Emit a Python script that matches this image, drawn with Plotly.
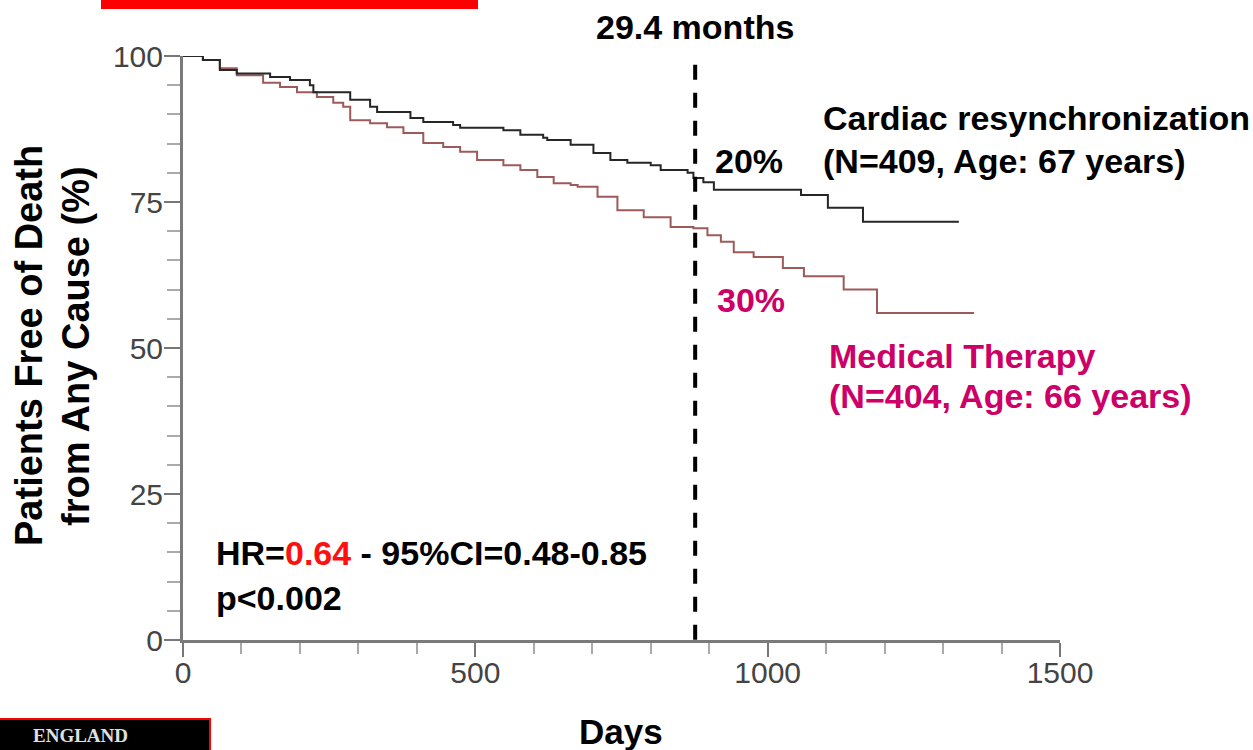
import plotly.graph_objects as go

# ---------------- data ----------------
crt_days = [0, 34, 63, 92, 149, 183, 217, 223, 286, 320, 332, 389, 411, 462, 474, 548, 577, 616, 623, 663,
            702, 731, 760, 800, 817, 863, 873, 890, 908, 1057, 1103, 1163, 1327]
crt_surv = [100, 99.3, 97.6, 97.0, 96.4, 95.9, 95.0, 93.8, 92.5, 91.3, 90.4, 89.4, 88.7, 88.2, 87.7, 87.3, 86.5, 86.0, 85.6, 84.8,
            83.4, 82.2, 81.7, 81.3, 80.5, 80.0, 79.1, 78.4, 77.1, 76.2, 74.0, 71.6, 71.6]

med_days = [0, 34, 63, 92, 137, 166, 195, 229, 257, 274, 286, 320, 349, 377, 411, 445, 474, 503, 548, 577,
            606, 634, 663, 675, 709, 743, 788, 834, 873, 897, 920, 942, 976, 1026, 1062, 1130, 1187, 1353]
med_surv = [100, 99.3, 97.9, 96.7, 95.4, 94.7, 93.8, 93.0, 92.0, 91.3, 89.0, 88.5, 87.8, 86.8, 85.1, 84.4, 83.6, 82.2, 81.3, 80.5,
            79.3, 78.2, 77.9, 77.6, 75.9, 73.6, 72.4, 70.7, 70.5, 69.3, 68.2, 66.4, 65.6, 63.7, 62.3, 60.0, 56.0, 56.0]

followup_days = 876
followup_top = 98.5

x_ticks = [0, 500, 1000, 1500]
y_ticks = [0, 25, 50, 75, 100]

# ---------------- layout helpers ----------------
W, H = 1253, 750
L, R, T, B = 183, 1060, 56, 640   # plot area in pixels


def xp(px):
    return (px - L) / (R - L)


def yp(py):
    return (B - py) / (B - T)


FONT = "Liberation Sans, Arial, sans-serif"
MAGENTA = "#CC0066"

fig = go.Figure()

fig.add_trace(go.Scatter(x=med_days, y=med_surv, mode="lines", line=dict(shape="hv", color="#9e5a5a", width=2),
                         showlegend=False, hoverinfo="skip"))
fig.add_trace(go.Scatter(x=crt_days, y=crt_surv, mode="lines", line=dict(shape="hv", color="#262626", width=2),
                         showlegend=False, hoverinfo="skip"))
fig.add_trace(go.Scatter(x=[followup_days, followup_days], y=[followup_top, 0], mode="lines",
                         line=dict(color="black", width=4, dash="15px,13px"), showlegend=False, hoverinfo="skip"))

fig.update_xaxes(range=[0, 1500], tickmode="array", tickvals=x_ticks, ticks="outside", ticklen=14, tickwidth=2,
                 tickcolor="#777", showline=True, linecolor="#7a7a7a", linewidth=3, showgrid=False, zeroline=False,
                 tickfont=dict(family=FONT, size=30, color="#444"), ticklabelstandoff=-10,
                 minor=dict(dtick=100, tick0=0, ticks="outside", ticklen=11, tickwidth=2, tickcolor="#aaa", showgrid=False))
fig.update_yaxes(range=[0, 100], tickmode="array", tickvals=y_ticks, ticks="outside", ticklen=16, tickwidth=2,
                 tickcolor="#777", showline=True, linecolor="#7a7a7a", linewidth=3, showgrid=False, zeroline=False,
                 tickfont=dict(family=FONT, size=30, color="#444"), ticklabelstandoff=-5,
                 minor=dict(dtick=5, tick0=0, ticks="outside", ticklen=13, tickwidth=2, tickcolor="#aaa", showgrid=False))

fig.update_layout(width=W, height=H, margin=dict(l=L, r=W - R, t=T, b=H - B, pad=0),
                  paper_bgcolor="white", plot_bgcolor="white", showlegend=False)


def ann(text, px, py, size=34, color="black", xanchor="left", angle=0):
    fig.add_annotation(text=text, x=xp(px), y=yp(py), xref="paper", yref="paper", showarrow=False,
                       xanchor=xanchor, yanchor="middle", textangle=angle,
                       font=dict(family=FONT, size=size, color=color))


ann("<b>29.4 months</b>", 695, 27, xanchor="center")
ann("<b>Cardiac resynchronization</b>", 821, 118)
ann("<b>(N=409, Age: 67 years)</b>", 821, 161)
ann("<b>20%</b>", 713, 161)
ann("<b>30%</b>", 715, 300, color=MAGENTA)
ann("<b>Medical Therapy</b>", 827, 356, color=MAGENTA)
ann("<b>(N=404, Age: 66 years)</b>", 827, 396, color=MAGENTA)
ann("<b>HR=<span style='color:#FF1010'>0.64</span> - 95%CI=0.48-0.85</b>", 214, 553)
ann("<b>p<0.002</b>", 214, 598)
ann("<b>Days</b>", 621, 731, size=35, xanchor="center")
ann("<b>Patients Free of Death</b>", 29, 346, size=38, xanchor="center", angle=-90)
ann("<b>from Any Cause (%)</b>", 76, 346, size=38, xanchor="center", angle=-90)

# decorative header bar and journal logo fragment
fig.add_shape(type="rect", xref="paper", yref="paper", x0=xp(101), x1=xp(478), y0=yp(9), y1=yp(-5),
              fillcolor="#FF0000", line=dict(width=0), layer="above")
fig.add_shape(type="rect", xref="paper", yref="paper", x0=xp(-5), x1=xp(210), y0=yp(760), y1=yp(719),
              fillcolor="black", line=dict(color="#FF0000", width=2), layer="above")
fig.add_annotation(text="<b>ENGLAND</b>", x=xp(80), y=yp(735), xref="paper", yref="paper", showarrow=False,
                   xanchor="center", yanchor="middle",
                   font=dict(family="Liberation Serif, Times New Roman, serif", size=19, color="#e0e0e0"))

fig.write_html("out.html")
